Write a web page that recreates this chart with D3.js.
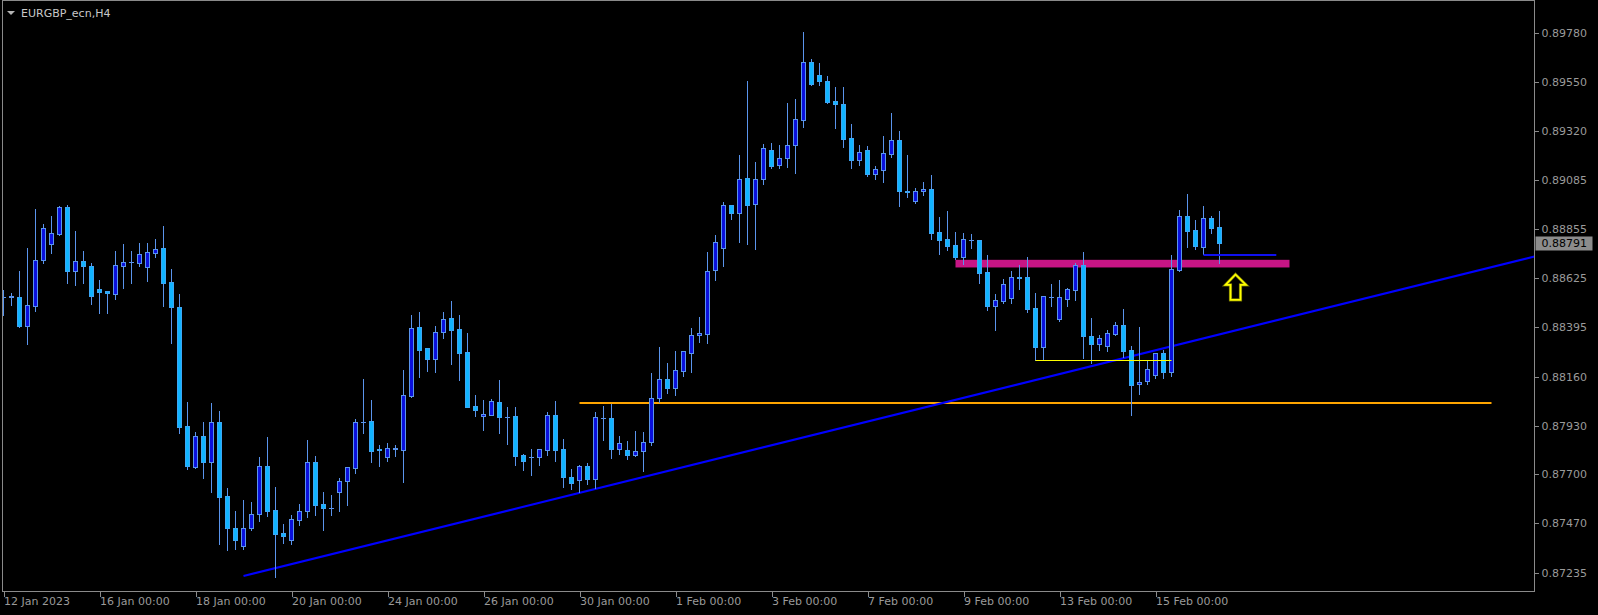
<!DOCTYPE html>
<html><head><meta charset="utf-8">
<script src="https://cdn.jsdelivr.net/npm/d3@7"></script>
<style>
html,body{margin:0;padding:0;background:#000;overflow:hidden;}
svg{display:block;}
text{font-family:"DejaVu Sans",sans-serif;}
</style></head>
<body>
<svg id="chart" width="1598" height="615"></svg>
<script>
const symbolTitle = "EURGBP_ecn,H4";
const startDay = [2023, 0, 12];

const opens = [0.88538,0.88538,0.88535,0.88401,0.88495,0.88708,0.88785,0.88834,0.88959,0.88656,
0.88705,0.88682,0.88574,0.88564,0.88552,0.88684,0.88700,0.88698,0.88675,0.88745,
0.88766,0.88605,0.88487,0.87928,0.87734,0.87880,0.87760,0.87946,0.87597,0.87447,
0.87364,0.87445,0.87511,0.87738,0.87531,0.87423,0.87389,0.87487,0.87525,0.87757,
0.87560,0.87542,0.87616,0.87668,0.87732,0.87947,0.87951,0.87818,0.87783,0.87821,
0.87816,0.88071,0.88393,0.88294,0.88245,0.88370,0.88436,0.88384,0.88277,0.88021,
0.87974,0.87982,0.88040,0.87971,0.87974,0.87790,0.87782,0.87783,0.87813,0.87978,
0.87818,0.87688,0.87673,0.87739,0.87676,0.87966,0.87965,0.87818,0.87813,0.87793,
0.87809,0.87851,0.88062,0.88149,0.88109,0.88189,0.88274,0.88356,0.88363,0.88663,
0.88765,0.88968,0.88934,0.89096,0.88973,0.89091,0.89227,0.89157,0.89190,0.89251,
0.89372,0.89642,0.89581,0.89553,0.89459,0.89444,0.89284,0.89183,0.89227,0.89117,
0.89136,0.89211,0.89275,0.89034,0.88986,0.89033,0.89044,0.88841,0.88808,0.88780,
0.88726,0.88805,0.88803,0.88653,0.88495,0.88519,0.88533,0.88629,0.88629,0.88483,
0.88302,0.88535,0.88434,0.88528,0.88571,0.88686,0.88351,0.88316,0.88307,0.88363,
0.88403,0.88285,0.88125,0.88140,0.88170,0.88272,0.88184,0.88665,0.88916,0.88852,
0.88773,0.88907,0.88866];
const highs = [0.88569,0.88554,0.88659,0.88766,0.88951,0.88880,0.88918,0.88965,0.88969,0.88847,
0.88753,0.88696,0.88616,0.88564,0.88753,0.88786,0.88753,0.88792,0.88792,0.88810,
0.88871,0.88668,0.88550,0.88041,0.87899,0.87947,0.88035,0.87999,0.87635,0.87528,
0.87580,0.87569,0.87782,0.87877,0.87640,0.87465,0.87508,0.87560,0.87861,0.87787,
0.87618,0.87603,0.87682,0.87736,0.87961,0.88150,0.88051,0.87839,0.87848,0.87839,
0.88192,0.88451,0.88466,0.88296,0.88400,0.88463,0.88517,0.88451,0.88366,0.88075,
0.88051,0.88056,0.88145,0.88018,0.88018,0.87795,0.87820,0.87820,0.87994,0.88046,
0.87868,0.87723,0.87744,0.87754,0.87994,0.88024,0.88033,0.87879,0.87857,0.87905,
0.87899,0.88178,0.88301,0.88225,0.88282,0.88282,0.88389,0.88441,0.88747,0.88827,
0.88983,0.88970,0.89204,0.89554,0.89171,0.89257,0.89262,0.89251,0.89451,0.89469,
0.89785,0.89658,0.89638,0.89578,0.89525,0.89525,0.89352,0.89253,0.89246,0.89152,
0.89295,0.89403,0.89319,0.89206,0.89049,0.89078,0.89111,0.88913,0.88942,0.88843,
0.88838,0.88833,0.88805,0.88734,0.88549,0.88620,0.88659,0.88687,0.88725,0.88554,
0.88542,0.88596,0.88615,0.88577,0.88695,0.88747,0.88436,0.88356,0.88379,0.88417,
0.88480,0.88304,0.88395,0.88235,0.88273,0.88286,0.88734,0.88946,0.89022,0.88899,
0.88965,0.88918,0.88942];
const lows = [0.88451,0.88498,0.88393,0.88316,0.88472,0.88698,0.88741,0.88828,0.88603,0.88593,
0.88602,0.88505,0.88461,0.88461,0.88528,0.88578,0.88603,0.88680,0.88612,0.88722,
0.88495,0.88320,0.87896,0.87725,0.87732,0.87685,0.87618,0.87373,0.87345,0.87350,
0.87350,0.87439,0.87478,0.87505,0.87218,0.87377,0.87373,0.87462,0.87501,0.87509,
0.87436,0.87509,0.87529,0.87556,0.87708,0.87893,0.87760,0.87737,0.87763,0.87788,
0.87666,0.88066,0.88160,0.88189,0.88184,0.88344,0.88222,0.88146,0.88017,0.87977,
0.87910,0.87980,0.87893,0.87843,0.87745,0.87721,0.87698,0.87744,0.87793,0.87765,
0.87642,0.87631,0.87618,0.87655,0.87636,0.87862,0.87779,0.87796,0.87770,0.87788,
0.87716,0.87839,0.88043,0.88085,0.88076,0.88165,0.88184,0.88326,0.88321,0.88618,
0.88684,0.88905,0.88797,0.88787,0.88764,0.89070,0.89145,0.89145,0.89150,0.89122,
0.89339,0.89535,0.89535,0.89451,0.89333,0.89243,0.89146,0.89158,0.89108,0.89094,
0.89078,0.89197,0.88967,0.89009,0.88980,0.89018,0.88811,0.88740,0.88759,0.88715,
0.88689,0.88769,0.88603,0.88475,0.88381,0.88509,0.88509,0.88573,0.88467,0.88239,
0.88239,0.88494,0.88425,0.88494,0.88522,0.88250,0.88227,0.88288,0.88283,0.88359,
0.88255,0.87982,0.88080,0.88126,0.88156,0.88156,0.88165,0.88656,0.88773,0.88763,
0.88739,0.88839,0.88695];
const closes = [0.88536,0.88540,0.88401,0.88498,0.88711,0.88860,0.88836,0.88959,0.88656,0.88705,
0.88680,0.88542,0.88561,0.88556,0.88686,0.88700,0.88701,0.88738,0.88747,0.88761,
0.88603,0.88490,0.87924,0.87741,0.87880,0.87760,0.87946,0.87595,0.87445,0.87389,
0.87447,0.87513,0.87738,0.87529,0.87421,0.87411,0.87489,0.87528,0.87757,0.87556,
0.87539,0.87540,0.87668,0.87734,0.87946,0.87949,0.87812,0.87816,0.87823,0.87822,
0.88073,0.88389,0.88287,0.88245,0.88370,0.88431,0.88382,0.88273,0.88019,0.88005,
0.87984,0.88045,0.87972,0.87969,0.87788,0.87765,0.87780,0.87818,0.87978,0.87816,
0.87689,0.87661,0.87739,0.87676,0.87969,0.87964,0.87821,0.87846,0.87793,0.87809,
0.87851,0.88059,0.88149,0.88109,0.88191,0.88280,0.88356,0.88365,0.88658,0.88794,
0.88968,0.88934,0.89091,0.88971,0.89091,0.89237,0.89155,0.89190,0.89251,0.89374,
0.89642,0.89540,0.89556,0.89457,0.89444,0.89282,0.89183,0.89218,0.89117,0.89138,
0.89213,0.89275,0.89033,0.89032,0.89034,0.89044,0.88839,0.88806,0.88778,0.88726,
0.88808,0.88803,0.88651,0.88494,0.88521,0.88596,0.88629,0.88627,0.88481,0.88302,
0.88540,0.88537,0.88535,0.88573,0.88686,0.88354,0.88316,0.88342,0.88365,0.88403,
0.88283,0.88123,0.88134,0.88195,0.88271,0.88184,0.88667,0.88916,0.88849,0.88778,
0.88907,0.88863,0.88791];

const priceTicks = [0.89780,0.89550,0.89320,0.89085,0.88855,0.88625,0.88395,0.88160,0.87930,0.87700,0.87470,0.87235];
const bidPrice = 0.88791;

// drawn objects (bar index, price)
const trendBars = [30, 142];
const trendPrices = [0.87221, 0.88266];
const orangeLine = {price: 0.88038, fromBar: 72, toBar: 186};
const zoneBars = [119, 160.75];
const zonePrices = [0.88675, 0.88711];
const yellowLine = {price: 0.88237, fromBar: 129, toBar: 146};
const blueLine = {price: 0.88735, fromBar: 150, toBar: 159.1};
const arrowAt = {bar: 154, price: 0.88522};

// ---- layout
const W = 1598, H = 615;
const plot = {left: 2.5, top: 0.5, right: 1534.5, bottom: 591.5};

const svg = d3.select("#chart");
svg.append("rect").attr("width", W).attr("height", H).attr("fill", "#000");

// bar times (H4, weekdays only)
const barTimes = [];
{
  let t = Date.UTC(startDay[0], startDay[1], startDay[2], 0);
  while (barTimes.length < opens.length) {
    const d = new Date(t);
    const dow = d.getUTCDay();
    if (dow !== 0 && dow !== 6) barTimes.push(d);
    t += 4 * 3600e3;
  }
}

const x = d3.scaleLinear().domain([0, 191]).range([3.5, 3.5 + 8 * 191]);
const y = d3.scaleLinear().domain([0.87235, 0.89780]).range([573, 33]);

svg.append("defs").append("clipPath").attr("id", "clip")
  .append("rect").attr("x", plot.left).attr("y", plot.top)
  .attr("width", plot.right - plot.left).attr("height", plot.bottom - plot.top);

const g = svg.append("g").attr("clip-path", "url(#clip)");

// orange horizontal level
g.append("line")
  .attr("x1", x(orangeLine.fromBar)).attr("x2", x(orangeLine.toBar))
  .attr("y1", Math.round(y(orangeLine.price))).attr("y2", Math.round(y(orangeLine.price)))
  .attr("stroke", "#ffa500").attr("stroke-width", 2);

// magenta zone
g.append("rect")
  .attr("x", x(zoneBars[0])).attr("width", x(zoneBars[1]) - x(zoneBars[0]))
  .attr("y", y(zonePrices[1])).attr("height", y(zonePrices[0]) - y(zonePrices[1]))
  .attr("fill", "#c71585");

// trend line as ray to right border
{
  const x1 = x(trendBars[0]), y1 = y(trendPrices[0]);
  const x2 = x(trendBars[1]), y2 = y(trendPrices[1]);
  const slope = (y2 - y1) / (x2 - x1);
  const xe = plot.right;
  g.append("line").attr("x1", x1).attr("y1", y1).attr("x2", xe).attr("y2", y1 + slope * (xe - x1))
    .attr("stroke", "#0000ff").attr("stroke-width", 2.2);
}

// candles
const wickCol = "#5a94ec";
const bullFill = "#0a10dc", bearFill = "#10b4ff";
const cg = g.append("g").attr("shape-rendering", "crispEdges");
opens.forEach((o, i) => {
  const c = closes[i], h = highs[i], l = lows[i];
  const cx = Math.floor(x(i)) + 0.5;
  cg.append("line").attr("x1", cx).attr("x2", cx)
    .attr("y1", Math.round(y(h))).attr("y2", Math.round(y(l)) + 1)
    .attr("stroke", wickCol).attr("stroke-width", 1);
  const yt = Math.round(y(Math.max(o, c))), yb = Math.round(y(Math.min(o, c)));
  if (yb - yt < 1) {
    cg.append("line").attr("x1", cx - 2.5).attr("x2", cx + 2.5)
      .attr("y1", yt + 0.5).attr("y2", yt + 0.5)
      .attr("stroke", wickCol).attr("stroke-width", 1);
  } else {
    const bull = c > o;
    cg.append("rect").attr("x", cx - 2).attr("y", yt + 0.5)
      .attr("width", 4).attr("height", yb - yt)
      .attr("fill", bull ? bullFill : bearFill)
      .attr("stroke", bull ? wickCol : "#3ea6f4").attr("stroke-width", 1);
  }
});

// yellow thin level
g.append("line")
  .attr("x1", x(yellowLine.fromBar)).attr("x2", x(yellowLine.toBar))
  .attr("y1", Math.round(y(yellowLine.price)) + 0.5).attr("y2", Math.round(y(yellowLine.price)) + 0.5)
  .attr("stroke", "#ffff00").attr("stroke-width", 1);

// short blue level
g.append("line")
  .attr("x1", x(blueLine.fromBar)).attr("x2", x(blueLine.toBar))
  .attr("y1", Math.round(y(blueLine.price))).attr("y2", Math.round(y(blueLine.price)))
  .attr("stroke", "#1010f0").attr("stroke-width", 2);

// yellow up arrow
{
  const ax = x(arrowAt.bar), ab = y(arrowAt.price);
  const p = d3.path();
  p.moveTo(ax - 5, ab); p.lineTo(ax - 5, ab - 15); p.lineTo(ax - 10, ab - 15);
  p.lineTo(ax, ab - 25.5); p.lineTo(ax + 10.5, ab - 15); p.lineTo(ax + 5, ab - 15);
  p.lineTo(ax + 5, ab); p.closePath();
  g.append("path").attr("d", p.toString()).attr("fill", "none")
    .attr("stroke", "#6b6b00").attr("stroke-width", 3.2).attr("stroke-linejoin", "miter");
  g.append("path").attr("d", p.toString()).attr("fill", "none")
    .attr("stroke", "#ffff00").attr("stroke-width", 1.8).attr("stroke-linejoin", "miter");
}

// frame
svg.append("rect").attr("x", plot.left).attr("y", plot.top)
  .attr("width", plot.right - plot.left).attr("height", plot.bottom - plot.top)
  .attr("fill", "none").attr("stroke", "#8a8a8a").attr("stroke-width", 1)
  .attr("shape-rendering", "crispEdges");

// price axis
const yAxis = d3.axisRight(y).tickValues(priceTicks).tickFormat(d3.format(".5f"))
  .tickSize(4).tickPadding(3);
const ya = svg.append("g").attr("transform", `translate(${plot.right},0)`).call(yAxis);
ya.select(".domain").remove();
ya.selectAll(".tick line").attr("stroke", "#8a8a8a").attr("shape-rendering", "crispEdges");
ya.selectAll(".tick text").attr("fill", "#9a9a9a").attr("font-size", "11px")
  .attr("font-family", "DejaVu Sans");

// time axis
const tickIdx = d3.range(0, opens.length).filter(i => i % 12 === 0);
const fmtFirst = d3.utcFormat("%-d %b %Y"), fmtOther = d3.utcFormat("%-d %b %H:%M");
const xAxis = d3.axisBottom(x).tickValues(tickIdx)
  .tickFormat(i => i === 0 ? fmtFirst(barTimes[i]) : fmtOther(barTimes[i]))
  .tickSize(5).tickSizeOuter(0);
const xa = svg.append("g").attr("transform", `translate(0,${plot.bottom})`).call(xAxis);
xa.select(".domain").remove();
xa.selectAll(".tick line").attr("stroke", "#8a8a8a").attr("shape-rendering", "crispEdges");
xa.selectAll(".tick text").attr("fill", "#9a9a9a").attr("font-size", "11px")
  .attr("font-family", "DejaVu Sans").attr("text-anchor", "start")
  .attr("x", 0).attr("dy", "0.71em").attr("y", 6);

// bid price label
{
  const by = y(bidPrice);
  svg.append("rect").attr("x", plot.right + 1).attr("y", Math.round(by) - 6.5)
    .attr("width", 57).attr("height", 14).attr("fill", "#8c8c8c");
  svg.append("text").attr("x", plot.right + 7).attr("y", by).attr("dy", "0.35em")
    .attr("fill", "#000").attr("font-size", "11px").text(d3.format(".5f")(bidPrice));
}

// title
svg.append("path").attr("d", "M7,11 L15,11 L11,15 Z").attr("fill", "#b4b4b4");
svg.append("text").attr("x", 21).attr("y", 16.5).attr("fill", "#c8c8c8")
  .attr("font-size", "11px").text(symbolTitle);
</script>
</body></html>
